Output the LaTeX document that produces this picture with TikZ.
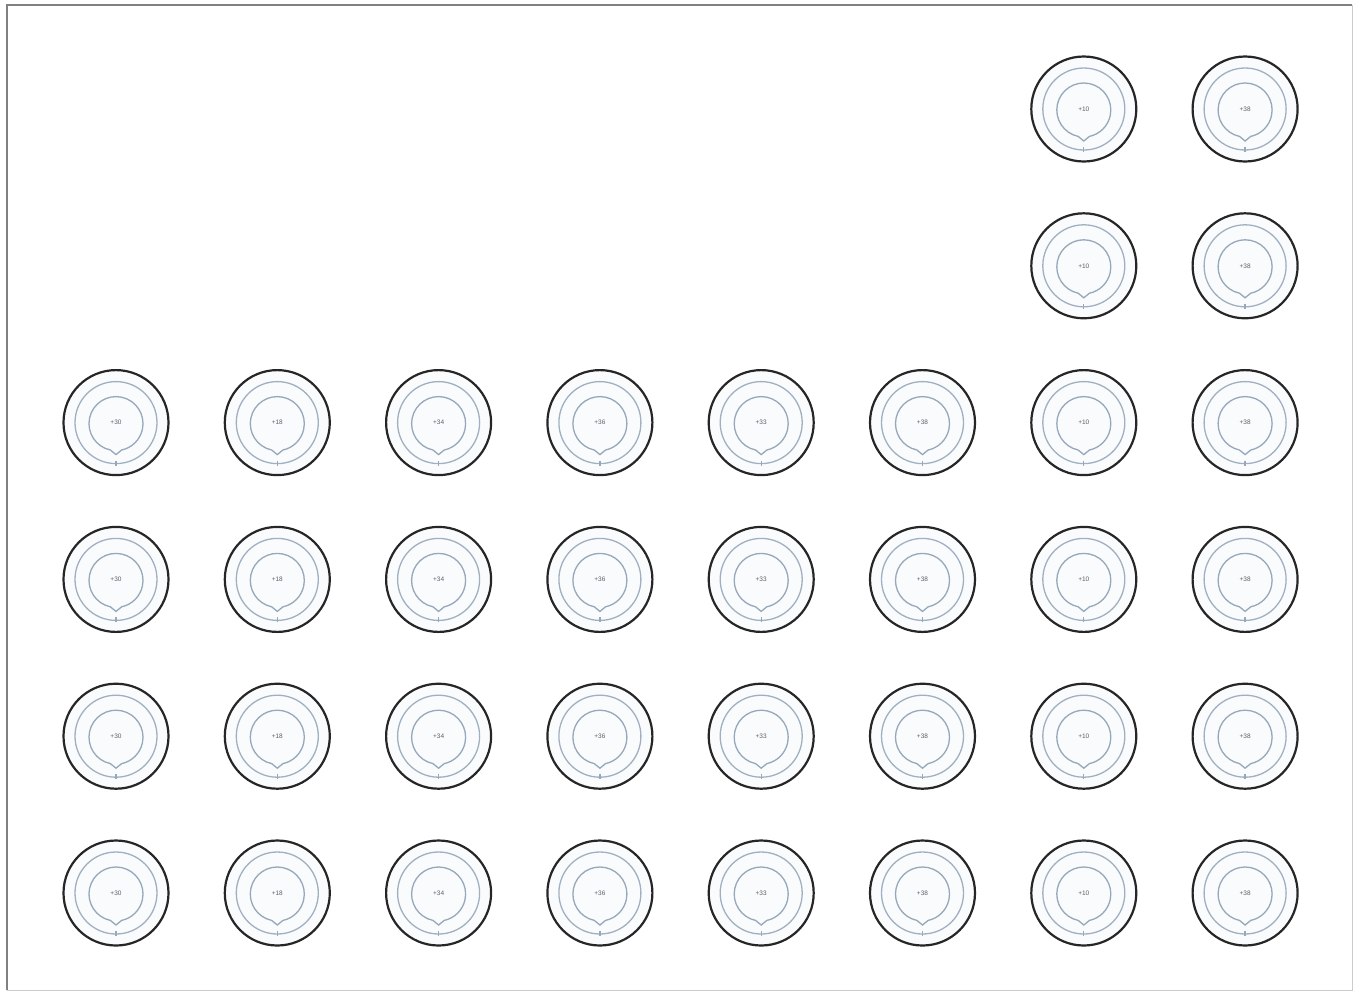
\documentclass[tikz,border=0pt]{standalone}
\usepackage{fontspec}
\setmainfont{Liberation Sans}
\begin{document}
\begin{tikzpicture}[x=1pt,y=-1pt,
  outerring/.style={draw=black!85,line width=2.2pt,fill={rgb,255:red,250;green,251;blue,253}},
  midring/.style={draw={rgb,255:red,160;green,176;blue,192},line width=1.3pt},
  innerring/.style={draw={rgb,255:red,150;green,168;blue,186},line width=1.3pt},
  tickmark/.style={draw={rgb,255:red,150;green,168;blue,186},line width=1.3pt},
  lbl/.style={font=\fontsize{6.5}{7}\selectfont,text={rgb,255:red,90;green,95;blue,105},inner sep=0pt}]
\useasboundingbox (0,0) rectangle (1357,994);
\fill[white] (0,0) rectangle (1357,994);
% frame
\draw[black!20,line width=1pt] (7,5) rectangle (1352,990);
\draw[black!50,line width=2pt] (7,990) -- (7,5) -- (1352,5);
% labels per column
\def\labs{{"+30","+18","+34","+36","+33","+38","+10","+38"}}
\foreach \c in {1,...,8}{
  \foreach \r in {1,...,6}{
    \pgfmathsetmacro{\show}{(\r>2 || \c>6) ? 1 : 0}
    \ifnum\show>0
      \pgfmathsetmacro{\cx}{116+(\c-1)*161.3}
      \pgfmathsetmacro{\cy}{109+(\r-1)*156.8}
      \pgfmathsetmacro{\lab}{\labs[\c-1]}
      \path[outerring] (\cx,\cy) circle (52.5);
      \draw[midring] (\cx,\cy) circle (41);
      \draw[innerring] (\cx,\cy+1) ++(102:27) arc[start angle=102,end angle=438,radius=27] -- (\cx,\cy+32) -- cycle;
      \draw[tickmark] (\cx,\cy+38) -- (\cx,\cy+43);
      \node[lbl] (n\c-\r) at (\cx,\cy) {\lab};
    \fi
  }
}
\end{tikzpicture}
\end{document}
